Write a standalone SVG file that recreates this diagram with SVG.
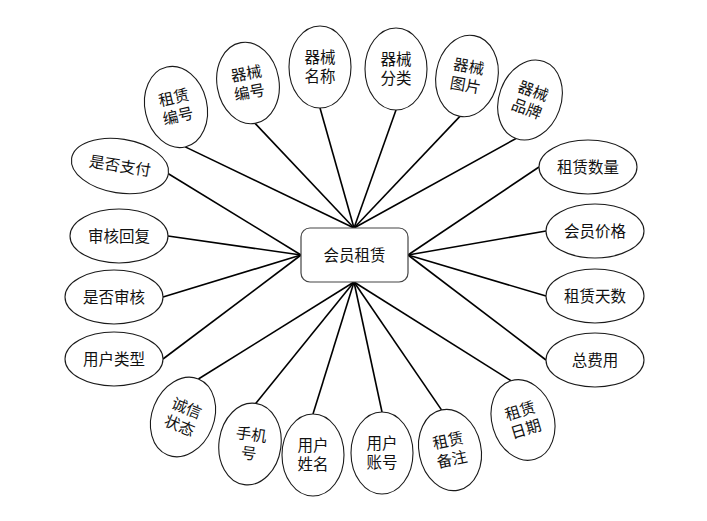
<svg xmlns="http://www.w3.org/2000/svg" width="707" height="521" viewBox="0 0 707 521">
<style>
.bg{fill:#fff}
.e{fill:#fff;stroke:#1a1a1a;stroke-width:1.1}
.c{stroke:#000;stroke-width:1.6;fill:none}
.box{fill:#fff;stroke:#444;stroke-width:1.2}
text{font-family:"Liberation Sans","Noto Sans CJK SC",sans-serif;font-size:15.5px;fill:#111;text-anchor:middle;dominant-baseline:central}
</style>
<rect class="bg" x="0" y="0" width="707" height="521"/>
<g id="connectors">
<line class="c" x1="185.2" y1="146.9" x2="354" y2="228"/>
<line class="c" x1="255.1" y1="123.4" x2="354" y2="228"/>
<line class="c" x1="320" y1="108" x2="354" y2="228"/>
<line class="c" x1="396" y1="110" x2="354" y2="228"/>
<line class="c" x1="459.9" y1="116.4" x2="354" y2="228"/>
<line class="c" x1="516" y1="138.5" x2="354" y2="228"/>
<line class="c" x1="539" y1="167" x2="408" y2="255"/>
<line class="c" x1="546" y1="231" x2="408" y2="255"/>
<line class="c" x1="546" y1="296" x2="408" y2="255"/>
<line class="c" x1="546" y1="360" x2="408" y2="255"/>
<line class="c" x1="511" y1="380.8" x2="354" y2="282"/>
<line class="c" x1="441.5" y1="409.9" x2="354" y2="282"/>
<line class="c" x1="382" y1="412" x2="354" y2="282"/>
<line class="c" x1="313" y1="414" x2="354" y2="282"/>
<line class="c" x1="255.7" y1="403.4" x2="354" y2="282"/>
<line class="c" x1="198.4" y1="379" x2="354" y2="282"/>
<line class="c" x1="163" y1="359" x2="301" y2="255"/>
<line class="c" x1="163" y1="297" x2="301" y2="255"/>
<line class="c" x1="168" y1="236" x2="301" y2="255"/>
<line class="c" x1="168.4" y1="173.7" x2="301" y2="255"/>
</g>
<g id="center">
<rect class="box" x="301" y="228" width="107" height="54" rx="9"/>
<text x="354.5" y="255">会员租赁</text>
</g>
<g id="n1" transform="translate(176,107) rotate(-13)"><ellipse class="e" rx="31" ry="41"/><text y="-9.5">租赁</text><text y="9.5">编号</text></g>
<g id="n2" transform="translate(248,83) rotate(-10)"><ellipse class="e" rx="31" ry="41"/><text y="-9.5">器械</text><text y="9.5">编号</text></g>
<g id="n3" transform="translate(320,67)"><ellipse class="e" rx="31" ry="41"/><text y="-9.5">器械</text><text y="9.5">名称</text></g>
<g id="n4" transform="translate(396,69)"><ellipse class="e" rx="31" ry="41"/><text y="-9.5">器械</text><text y="9.5">分类</text></g>
<g id="n5" transform="translate(467,76) rotate(10)"><ellipse class="e" rx="31" ry="41"/><text y="-9.5">器械</text><text y="9.5">图片</text></g>
<g id="n6" transform="translate(530,100) rotate(20)"><ellipse class="e" rx="31" ry="41"/><text y="-9.5">器械</text><text y="9.5">品牌</text></g>
<g id="n7" transform="translate(588,167)"><ellipse class="e" rx="49" ry="27"/><text>租赁数量</text></g>
<g id="n8" transform="translate(595,231)"><ellipse class="e" rx="49" ry="27"/><text>会员价格</text></g>
<g id="n9" transform="translate(595,296)"><ellipse class="e" rx="49" ry="27"/><text>租赁天数</text></g>
<g id="n10" transform="translate(595,360)"><ellipse class="e" rx="49" ry="27"/><text>总费用</text></g>
<g id="n11" transform="translate(523,420) rotate(-17)"><ellipse class="e" rx="31" ry="41"/><text y="-9.5">租赁</text><text y="9.5">日期</text></g>
<g id="n12" transform="translate(450,450) rotate(-12)"><ellipse class="e" rx="31" ry="41"/><text y="-9.5">租赁</text><text y="9.5">备注</text></g>
<g id="n13" transform="translate(382,453)"><ellipse class="e" rx="31" ry="41"/><text y="-9.5">用户</text><text y="9.5">账号</text></g>
<g id="n14" transform="translate(313,455)"><ellipse class="e" rx="31" ry="41"/><text y="-9.5">用户</text><text y="9.5">姓名</text></g>
<g id="n15" transform="translate(250,444) rotate(8)"><ellipse class="e" rx="31" ry="41"/><text y="-9.5">手机</text><text y="9.5">号</text></g>
<g id="n16" transform="translate(183,417) rotate(22)"><ellipse class="e" rx="31" ry="41"/><text y="-9.5">诚信</text><text y="9.5">状态</text></g>
<g id="n17" transform="translate(114,359)"><ellipse class="e" rx="49" ry="27"/><text>用户类型</text></g>
<g id="n18" transform="translate(114,297)"><ellipse class="e" rx="49" ry="27"/><text>是否审核</text></g>
<g id="n19" transform="translate(119,236)"><ellipse class="e" rx="49" ry="27"/><text>审核回复</text></g>
<g id="n20" transform="translate(120,166) rotate(9)"><ellipse class="e" rx="49" ry="27"/><text>是否支付</text></g>
</svg>
